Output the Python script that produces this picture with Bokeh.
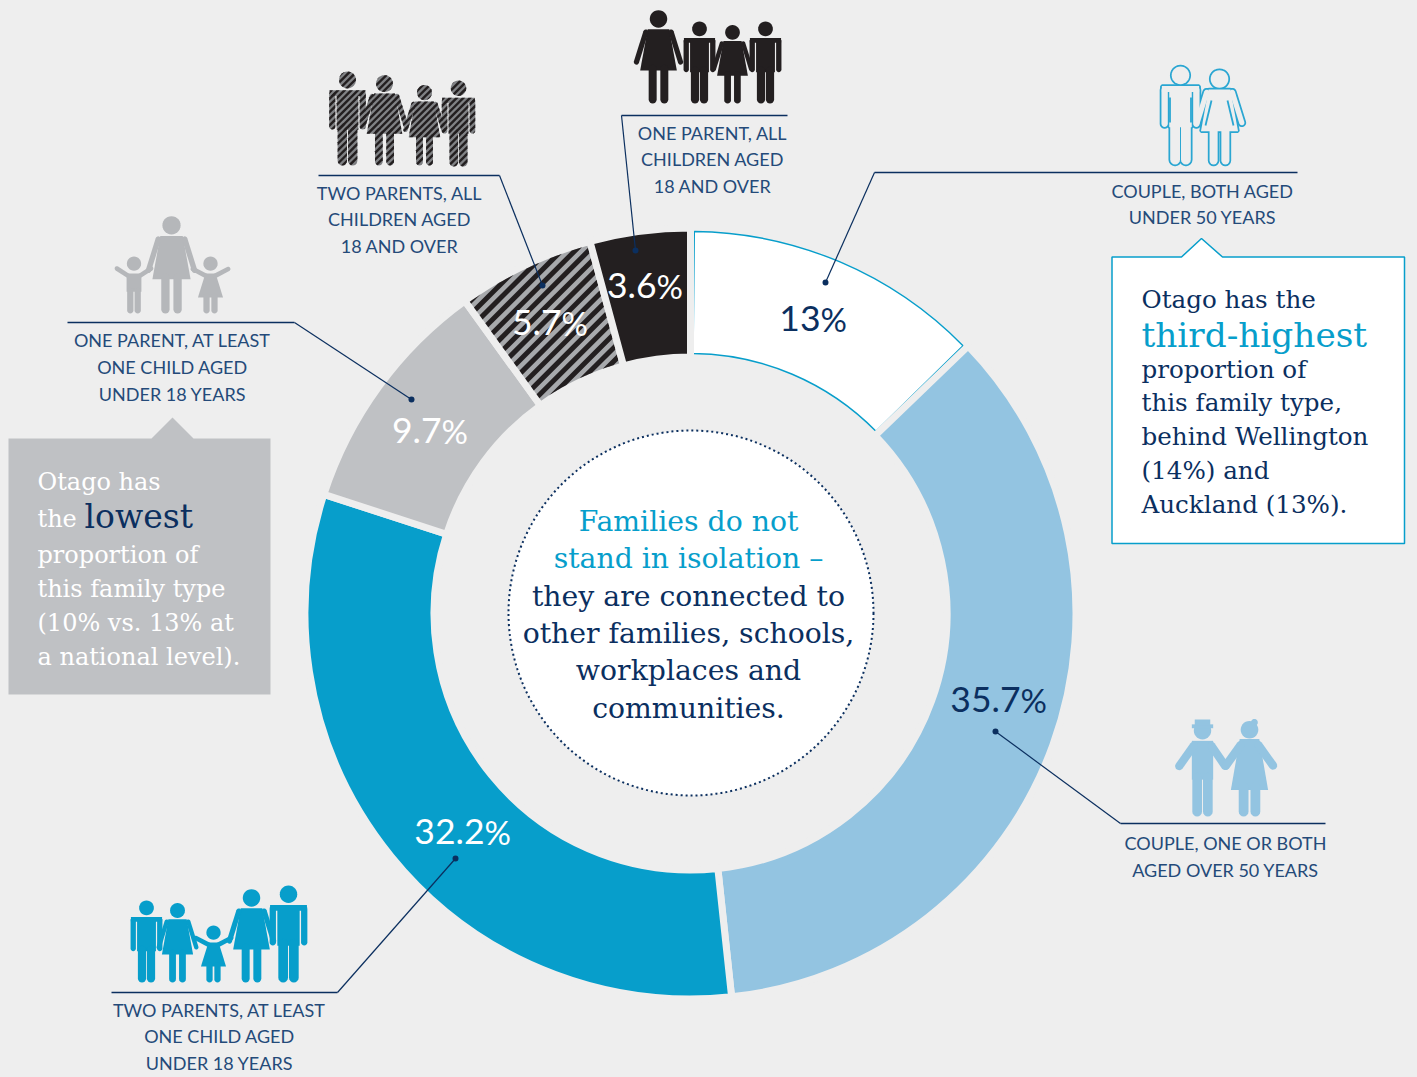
import math
from bokeh.plotting import figure
from bokeh.embed import file_html
from bokeh.resources import INLINE
from bokeh.core.properties import value

# ---- data ----
categories = ["Couple, both aged under 50 years", "Couple, one or both aged over 50 years",
              "Two parents, at least one child aged under 18 years",
              "One parent, at least one child aged under 18 years",
              "Two parents, all children aged 18 and over", "One parent, all children aged 18 and over"]
share_labels = ["13", "35.7", "32.2", "9.7", "5.7", "3.6"]
arc_shares = [12.8, 35.5, 31.7, 10.05, 5.75, 4.2]   # arc sizes as drawn in the picture
arc_colors = ["#ffffff", "#93c4e1", "#079ecb", "#bfc1c4", "#a7a9ac", "#231f20"]

W, H = 1417, 1077
BG, NAVY, BLUE, LABEL = "#eeeeee", "#0b2f5f", "#079ecb", "#244a79"
SANS, SLAB = "Lato", "DejaVu Serif"
CX, CY, R0, R1 = 690.0, 613.0, 260.0, 382.0


def Y(py):
    return H - py


p = figure(width=W, height=H, x_range=(0, W), y_range=(0, H),
           toolbar_location=None, output_backend="svg", min_border=0,
           background_fill_color=BG, border_fill_color=BG, outline_line_color=None)
p.axis.visible = False
p.grid.visible = False


def T(x, py, s, size, color, font=SANS, align="center"):
    p.text(x=[x], y=[Y(py - size * 0.37)], text=[s], text_font=value(font), text_font_size=f"{size}px",
           text_color=color, text_align=align, text_baseline="alphabetic")


def clip(poly, nx, ny, c, keep_above):
    """Sutherland-Hodgman clip of a polygon against the half plane nx*x+ny*y >= c (or <= c)."""
    out = []
    sign = 1 if keep_above else -1
    for i in range(len(poly)):
        a, b = poly[i], poly[(i + 1) % len(poly)]
        da = sign * (nx * a[0] + ny * a[1] - c)
        db = sign * (nx * b[0] + ny * b[1] - c)
        if da >= 0:
            out.append(a)
        if da * db < 0:
            t = da / (da - db)
            out.append((a[0] + t * (b[0] - a[0]), a[1] + t * (b[1] - a[1])))
    return out


def stripe_polys(poly, period, width, phase=0.0):
    nx, ny = math.sqrt(.5), -math.sqrt(.5)
    ds = [nx * x + ny * y for x, y in poly]
    k = math.floor((min(ds) - phase) / period) - 1
    xs, ys = [], []
    while phase + k * period < max(ds):
        c = phase + k * period
        q = clip(clip(poly, nx, ny, c, True), nx, ny, c + width, False)
        if len(q) >= 3:
            xs.append([v[0] for v in q])
            ys.append([v[1] for v in q])
        k += 1
    return xs, ys


# ---- ring ----
cum = 0.0
total = sum(arc_shares)
bounds = []
for s in arc_shares:
    a0 = math.pi / 2 - 2 * math.pi * cum / total
    cum += s
    a1 = math.pi / 2 - 2 * math.pi * cum / total
    bounds.append((a0, a1))

for i, ((a0, a1), c) in enumerate(zip(bounds, arc_colors)):
    if i == 0:
        d = 3.2 / 320
        p.annular_wedge(x=[CX], y=[Y(CY)], inner_radius=R0, outer_radius=R1, start_angle=a0 - d, end_angle=a1 + d,
                        direction="clock", fill_color=c, line_color=BLUE, line_width=1.4)
    else:
        p.annular_wedge(x=[CX], y=[Y(CY)], inner_radius=R0 - 3.5, outer_radius=R1 + 3.5, start_angle=a0, end_angle=a1,
                        direction="clock", fill_color=c, line_color=BG, line_width=7)
    if i == 4:
        pts = []
        for k in range(41):
            a = a0 - 3.5 / R1 + (a1 - a0 + 7 / R1) * k / 40
            pts.append((CX + R1 * math.cos(a), Y(CY) + R1 * math.sin(a)))
        for k in range(41):
            a = a1 + 3.5 / R0 + (a0 - a1 - 7 / R0) * k / 40
            pts.append((CX + R0 * math.cos(a), Y(CY) + R0 * math.sin(a)))
        sx, sy = stripe_polys(pts, 9.6, 5.0, 1.5)
        p.patches(sx, sy, fill_color="#231f20", line_color=None)

# ---- centre ----
p.circle(x=[690.5], y=[Y(612.5)], radius=182.5, fill_color="#ffffff", line_color=NAVY, line_width=2, line_dash="2 3")
for py, s, c in [(531, "Families do not", BLUE), (568, "stand in isolation –", BLUE), (606, "they are connected to", NAVY),
                 (643, "other families, schools,", NAVY), (680, "workplaces and", NAVY), (718, "communities.", NAVY)]:
    T(688, py, s, 28.3, c, SLAB)

# ---- percent labels ----
label_pos = [(820, 331, NAVY), (1020, 712, NAVY), (484, 844, "#ffffff"), (441, 443, "#ffffff"), (561, 335, "#ffffff"), (656, 298, "#ffffff")]
for lab, (x, py, c) in zip(share_labels, label_pos):
    T(x, py, lab, 35.5, c, SANS, "right")
    T(x, py, "%", 33, c, SANS, "left")

# ---- callouts ----
callouts = [([621, 787], [115, 115], (635, 250), 621, 115),
            ([318, 499], [175, 175], (542, 285), 499, 175),
            ([874, 1297], [172, 172], (825, 282), 874, 172),
            ([67, 294], [322, 322], (411, 399), 294, 322),
            ([1120, 1325], [823, 823], (995, 731), 1120, 823),
            ([111, 337], [992, 992], (455, 858), 337, 992)]
for xs, ys, dot, kx, ky in callouts:
    p.line(xs, [Y(v) for v in ys], line_color=NAVY, line_width=1.4)
    p.line([kx, dot[0]], [Y(ky), Y(dot[1])], line_color=NAVY, line_width=1.2)
    p.scatter([dot[0]], [Y(dot[1])], size=6, fill_color=NAVY, line_color=None)

labels = [(712, [139, 165, 192], ["ONE PARENT, ALL", "CHILDREN AGED", "18 AND OVER"]),
          (399, [199, 225, 252], ["TWO PARENTS, ALL", "CHILDREN AGED", "18 AND OVER"]),
          (1202, [197, 223], ["COUPLE, BOTH AGED", "UNDER 50 YEARS"]),
          (172, [346, 373, 400], ["ONE PARENT, AT LEAST", "ONE CHILD AGED", "UNDER 18 YEARS"]),
          (1225, [849, 876], ["COUPLE, ONE OR BOTH", "AGED OVER 50 YEARS"]),
          (219, [1016, 1042, 1069], ["TWO PARENTS, AT LEAST", "ONE CHILD AGED", "UNDER 18 YEARS"])]
for x, pys, lines in labels:
    for py, s in zip(pys, lines):
        T(x, py, s, 18, LABEL)

# ---- side boxes ----
xs = [8, 151, 172, 193, 270, 270, 8]
ys = [438, 438, 417, 438, 438, 694, 694]
p.patch(xs, [Y(v) for v in ys], fill_color="#bfc1c4", line_color=None)
xs = [1111.5, 1181, 1201, 1222, 1404, 1404, 1111.5]
ys = [256.5, 256.5, 238, 256.5, 256.5, 543, 543]
p.patch(xs, [Y(v) for v in ys], fill_color="#ffffff", line_color=BLUE, line_width=1.5)

for py, s in [(490, "Otago has"), (527, "the"), (563, "proportion of"), (597, "this family type"), (631, "(10% vs. 13% at"), (665, "a national level).")]:
    T(37, py, s, 24, "#ffffff", SLAB, "left")
T(84, 528, "lowest", 33, NAVY, SLAB, "left")
for py, s in [(308, "Otago has the"), (378, "proportion of"), (411, "this family type,"), (445, "behind Wellington"), (479, "(14%) and"), (513, "Auckland (13%).")]:
    T(1141, py, s, 24.6, NAVY, SLAB, "left")
T(1141, 347, "third-highest", 34.3, BLUE, SLAB, "left")


# ---- pictograms ----
def circ(x, y, r, n=28):
    return [(x + r * math.cos(2 * math.pi * i / n), y + r * math.sin(2 * math.pi * i / n)) for i in range(n)]


def cap(x0, y0, x1, y1, w):
    a = math.atan2(y1 - y0, x1 - x0)
    r = w / 2
    pts = []
    for i in range(9):
        t = a - math.pi / 2 + math.pi * i / 8
        pts.append((x1 + r * math.cos(t), y1 + r * math.sin(t)))
    for i in range(9):
        t = a + math.pi / 2 + math.pi * i / 8
        pts.append((x0 + r * math.cos(t), y0 + r * math.sin(t)))
    return pts


def legs(dx, y0, w):
    return [cap(-dx, y0, -dx, 1 - w / 2, w), cap(dx, y0, dx, 1 - w / 2, w)]


SHAPES = {
    "man": [circ(0, .09, .09), [(-.19, .2), (.19, .2), (.19, .26), (.115, .26), (.115, .62), (-.115, .62), (-.115, .26), (-.19, .26)],
            cap(-.162, .24, -.162, .585, .065), cap(.162, .24, .162, .585, .065)] + legs(.055, .6, .1),
    "woman": [circ(0, .1, .093), [(-.115, .21), (.115, .21), (.195, .65), (-.195, .65)],
              cap(-.135, .24, -.235, .56, .055), cap(.135, .24, .235, .56, .055)] + legs(.062, .63, .085),
    "boy": [circ(0, .125, .125), [(-.13, .3), (.13, .3), (.13, .62), (-.13, .62)],
            cap(-.1, .34, -.3, .21, .08), cap(.1, .34, .3, .21, .08)] + legs(.065, .6, .11),
    "girl": [circ(0, .125, .125), [(-.09, .3), (.09, .3), (.22, .72), (-.22, .72)],
             cap(-.08, .34, -.31, .22, .08), cap(.08, .34, .31, .22, .08)] + legs(.07, .7, .11),
    "oldman": [circ(0, .115, .09), [(-.11, .22), (.11, .22), (.11, .62), (-.11, .62)],
               cap(-.09, .27, -.24, .48, .085), cap(.09, .27, .235, .48, .085),
               [(-.11, .05), (.11, .05), (.11, .09), (-.11, .09)], [(-.08, 0), (.08, 0), (.08, .06), (-.08, .06)]] + legs(.055, .6, .1),
    "oldwoman": [circ(0, .115, .09), [(-.1, .21), (.1, .21), (.19, .73), (-.19, .73)],
                 cap(-.09, .27, -.24, .48, .085), cap(.09, .27, .24, .48, .085),
                 circ(.05, .04, .035)] + legs(.06, .7, .1),
}


def polys(kind, cx, top, bottom):
    h = bottom - top
    xs, ys = [], []
    for poly in SHAPES[kind]:
        xs.append([cx + x * h for x, _ in poly])
        ys.append([Y(top + y * h) for _, y in poly])
    return xs, ys


def group(items):
    X, Yy = [], []
    for it in items:
        a, b = polys(*it)
        X += a
        Yy += b
    return X, Yy


x_, y_ = group([("woman", 658, 9, 103), ("man", 699, 21, 103), ("woman", 732, 24, 103), ("man", 765, 21, 103)])
p.patches(x_, y_, fill_color="#231f20", line_color=None)

x_, y_ = group([("man", 347, 71, 165), ("woman", 384, 74, 165), ("woman", 424, 84, 165), ("man", 458, 80, 166)])
p.patches(x_, y_, fill_color="#808285", line_color=None)
sx, sy = [], []
for xa, ya in zip(x_, y_):
    a, b = stripe_polys(list(zip(xa, ya)), 4.7, 2.4)
    sx += a
    sy += b
p.patches(sx, sy, fill_color="#231f20", line_color=None)

x_, y_ = group([("woman", 171, 215, 313), ("boy", 133.5, 256, 313), ("girl", 210, 256, 313)])
p.patches(x_, y_, fill_color="#b5b7ba", line_color=None)

x_, y_ = group([("man", 146, 900, 982), ("woman", 177, 902, 982), ("girl", 213, 925, 982), ("woman", 251, 888, 982), ("man", 288, 885, 982)])
p.patches(x_, y_, fill_color=BLUE, line_color=None)

x_, y_ = group([("oldman", 1202, 719, 816), ("oldwoman", 1249, 718, 816)])
p.patches(x_, y_, fill_color="#93c4e1", line_color=None)

x_, y_ = group([("man", 1180, 66, 164), ("woman", 1219, 69, 164)])
p.patches(x_, y_, fill_color=BG, line_color="#2aa6d2", line_width=3.5)
p.patches(x_, y_, fill_color=BG, line_color=None)
for (x0, y0, x1, y1) in [(1169.5, 97, 1169.5, 122), (1190.5, 97, 1190.5, 122), (1211, 100, 1205, 125), (1227, 100, 1233, 125)]:
    p.line([x0, x1], [Y(y0), Y(y1)], line_color="#2aa6d2", line_width=1.8)

html = file_html(p, INLINE).replace("</head>", "<style>html,body{background:#eeeeee;margin:0;padding:0;overflow:hidden}</style></head>")
open("out.html", "w").write(html)
